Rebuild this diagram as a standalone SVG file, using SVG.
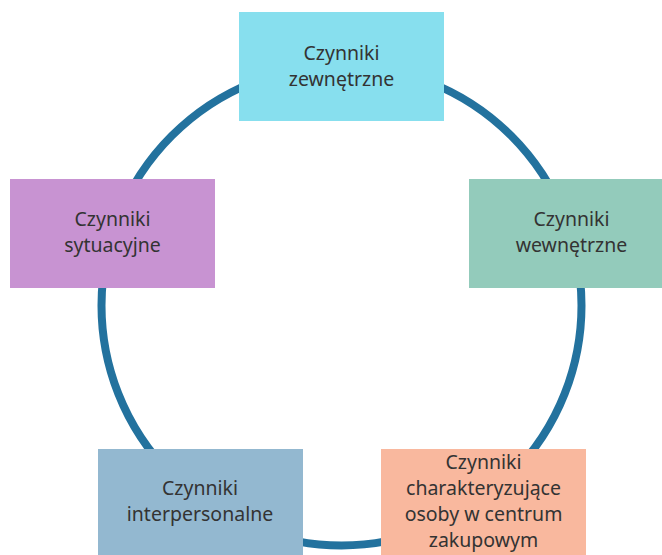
<svg xmlns="http://www.w3.org/2000/svg" width="662" height="555" viewBox="0 0 662 555">
  <style>
    .ring { fill: none; stroke: #23729E; stroke-width: 8; }
    .box { stroke: none; }
    .lbl { font-family: "Noto Sans", "Open Sans", "Liberation Sans", sans-serif; font-size: 19.5px; fill: #333333; text-anchor: middle; }
  </style>
  <rect width="662" height="555" fill="#ffffff"/>
  <g id="connectors">
    <circle class="ring" cx="341.5" cy="305.5" r="240"/>
  </g>
  <g id="node-zewnetrzne">
    <rect class="box" x="239" y="12" width="205" height="109" fill="#87DFEE"/>
    <text class="lbl" x="341.5" y="60">Czynniki</text>
    <text class="lbl" x="341.5" y="86">zewnętrzne</text>
  </g>
  <g id="node-wewnetrzne">
    <rect class="box" x="469" y="179" width="205" height="109" fill="#93CBBB"/>
    <text class="lbl" x="571.5" y="226">Czynniki</text>
    <text class="lbl" x="571.5" y="252">wewnętrzne</text>
  </g>
  <g id="node-sytuacyjne">
    <rect class="box" x="10" y="179" width="205" height="109" fill="#C893D2"/>
    <text class="lbl" x="112.5" y="226">Czynniki</text>
    <text class="lbl" x="112.5" y="252">sytuacyjne</text>
  </g>
  <g id="node-interpersonalne">
    <rect class="box" x="98" y="449" width="205" height="109" fill="#93B8D0"/>
    <text class="lbl" x="200" y="495">Czynniki</text>
    <text class="lbl" x="200" y="521">interpersonalne</text>
  </g>
  <g id="node-centrum">
    <rect class="box" x="381" y="449" width="205" height="109" fill="#F9B89E"/>
    <text class="lbl" x="483.5" y="469">Czynniki</text>
    <text class="lbl" x="483.5" y="495">charakteryzujące</text>
    <text class="lbl" x="483.5" y="521">osoby w centrum</text>
    <text class="lbl" x="483.5" y="547">zakupowym</text>
  </g>
</svg>
